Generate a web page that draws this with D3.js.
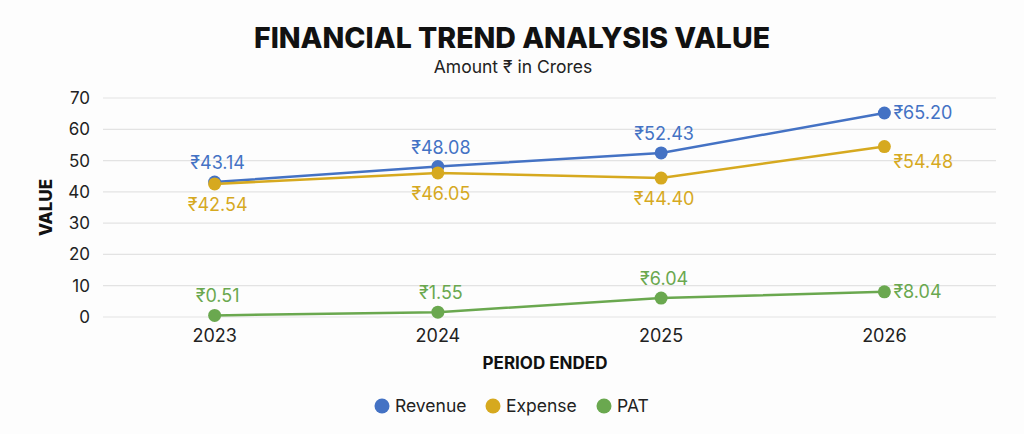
<!DOCTYPE html>
<html>
<head>
<meta charset="utf-8">
<script src="https://cdn.jsdelivr.net/npm/d3@7"></script>
<style>
  body { margin: 0; background: #fdfdfd; }
  svg { display: block; font-family: Inter, "Noto Sans", sans-serif; }
</style>
</head>
<body>
<svg id="chart" width="1024" height="434"></svg>
<script>
const years = ["2023", "2024", "2025", "2026"];
const revenue = [43.14, 48.08, 52.43, 65.20];
const expense = [42.54, 46.05, 44.40, 54.48];
const pat = [0.51, 1.55, 6.04, 8.04];
const yTicks = [0, 10, 20, 30, 40, 50, 60, 70];
const seriesNames = ["Revenue", "Expense", "PAT"];
const seriesColors = ["#4472c4", "#d6a91f", "#6aa84f"];

const width = 1024;
const height = 434;
const margin = { top: 98, right: 28, bottom: 117, left: 103 };

const svg = d3.select("#chart");

const x = d3.scaleBand()
    .domain(years)
    .range([margin.left, width - margin.right]);

const y = d3.scaleLinear()
    .domain([0, 70])
    .range([height - margin.bottom, margin.top]);

// gridlines
svg.append("g")
    .selectAll("line")
    .data(yTicks)
    .join("line")
    .attr("x1", margin.left)
    .attr("x2", width - margin.right)
    .attr("y1", d => y(d))
    .attr("y2", d => y(d))
    .attr("stroke", "#e3e3e3")
    .attr("stroke-width", 1.2);

// y axis labels
const yAxis = svg.append("g")
    .attr("transform", `translate(${margin.left - 13},0)`)
    .call(d3.axisLeft(y).tickValues(yTicks).tickSize(0).tickPadding(0));
yAxis.select(".domain").remove();
yAxis.selectAll("text")
    .attr("font-size", 17)
    .attr("font-family", "Inter, sans-serif")
    .attr("fill", "#222");

// x axis labels
const xAxis = svg.append("g")
    .attr("transform", `translate(0,${height - margin.bottom + 9})`)
    .call(d3.axisBottom(x).tickSize(0).tickPadding(3));
xAxis.select(".domain").remove();
xAxis.selectAll("text")
    .attr("font-size", 18)
    .attr("font-family", "Inter, sans-serif")
    .attr("fill", "#222");

// titles
svg.append("text")
    .attr("x", 512).attr("y", 48)
    .attr("text-anchor", "middle")
    .attr("font-size", 28.5)
    .attr("font-weight", 800)
    .attr("fill", "#111")
    .text("FINANCIAL TREND ANALYSIS VALUE");

svg.append("text")
    .attr("x", 513).attr("y", 73)
    .attr("text-anchor", "middle")
    .attr("font-size", 17.5)
    .attr("fill", "#222")
    .text("Amount ₹ in Crores");

svg.append("text")
    .attr("x", 545).attr("y", 369)
    .attr("text-anchor", "middle")
    .attr("font-size", 17)
    .attr("font-weight", 700)
    .attr("fill", "#111")
    .text("PERIOD ENDED");

svg.append("text")
    .attr("transform", `translate(52,${(y(0) + y(70)) / 2}) rotate(-90)`)
    .attr("text-anchor", "middle")
    .attr("font-size", 17)
    .attr("font-weight", 800)
    .attr("fill", "#111")
    .text("VALUE");

// series
const series = [
    { name: "Revenue", values: revenue, color: seriesColors[0],
      pos: ["above", "above", "above", "right"] },
    { name: "Expense", values: expense, color: seriesColors[1],
      pos: ["below", "below", "below", "rightBelow"] },
    { name: "PAT", values: pat, color: seriesColors[2],
      pos: ["above", "above", "above", "right"] }
];

const cx = d => x(d) + x.bandwidth() / 2;

const line = d3.line()
    .x(d => cx(d.year))
    .y(d => y(d.value));

series.forEach(s => {
    const pts = years.map((yr, i) => ({ year: yr, value: s.values[i], pos: s.pos[i] }));
    const g = svg.append("g");
    g.append("path")
        .datum(pts)
        .attr("d", line)
        .attr("fill", "none")
        .attr("stroke", s.color)
        .attr("stroke-width", 2.5);
    g.selectAll("circle")
        .data(pts)
        .join("circle")
        .attr("cx", d => cx(d.year))
        .attr("cy", d => y(d.value))
        .attr("r", 6.5)
        .attr("fill", s.color);
    g.selectAll("text")
        .data(pts)
        .join("text")
        .attr("x", d => d.pos.startsWith("right") ? cx(d.year) + 9 : cx(d.year) + 3)
        .attr("y", d => {
            if (d.pos === "above") return y(d.value) - 13;
            if (d.pos === "below") return y(d.value) + 27;
            if (d.pos === "rightBelow") return y(d.value) + 21;
            return y(d.value) + 6;
        })
        .attr("text-anchor", d => d.pos.startsWith("right") ? "start" : "middle")
        .attr("font-size", 18)
        .attr("fill", s.color)
        .text(d => "₹" + d.value.toFixed(2));
});

// legend
const legendX = [382, 493, 604];
const legend = svg.append("g")
    .selectAll("g")
    .data(seriesNames)
    .join("g")
    .attr("transform", (d, i) => `translate(${legendX[i]},406)`);
legend.append("circle")
    .attr("r", 7.5)
    .attr("fill", (d, i) => seriesColors[i]);
legend.append("text")
    .attr("x", 13)
    .attr("y", 6)
    .attr("font-size", 17.5)
    .attr("fill", "#222")
    .text(d => d);
</script>
</body>
</html>
